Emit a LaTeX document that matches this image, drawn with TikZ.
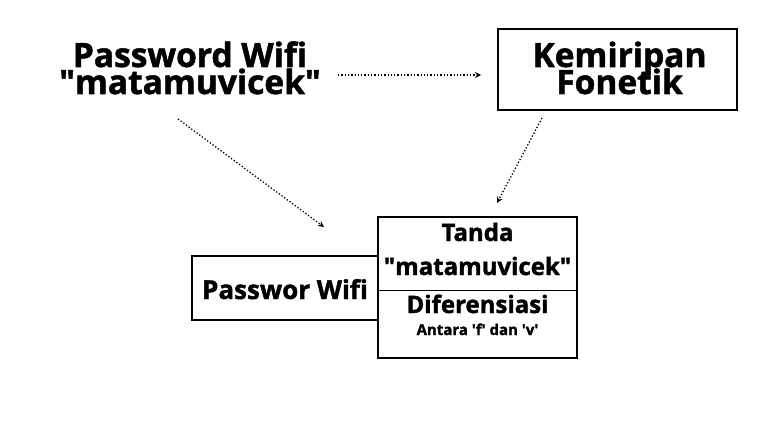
\documentclass[tikz,border=0pt]{standalone}
\usepackage{fontspec}
\setmainfont{Open Sans}[BoldFeatures={FakeBold=1.5}]
\usetikzlibrary{arrows.meta}
\begin{document}
\begin{tikzpicture}[x=1pt,y=-1pt,
  big/.style={inner sep=0pt,anchor=base,font=\fontsize{33.5}{33}\selectfont\bfseries},
  mid/.style={inner sep=0pt,anchor=base,font=\fontsize{24}{24}\selectfont\bfseries},
  midb/.style={inner sep=0pt,anchor=base,font=\fontsize{26}{26}\selectfont\bfseries},
  small/.style={inner sep=0pt,anchor=base,font=\fontsize{15}{15}\selectfont\bfseries},
  boxline/.style={draw=black,line width=2pt},
  dotarrow/.style={line width=1.3pt,dotted,-{Stealth[length=6pt,width=6pt]}}]
\useasboundingbox[fill=white] (0,0) rectangle (770,433);
% top left text
\node[big] (pwa) at (190,67) {Password Wifi};
\node[big] (pwb) at (190,94) {\textquotedbl matamuvicek\textquotedbl};
% Kemiripan box
\node[boxline,minimum width=239pt,minimum height=81pt,inner sep=0pt] (kf) at (617.5,69.5) {};
\node[big] (kfa) at (619.5,67) {Kemiripan};
\node[big] (kfb) at (619.5,94) {Fonetik};
% bottom boxes
\draw[boxline] (378,256) -- (192,256) -- (192,320) -- (378,320);
\node[boxline,minimum width=199pt,minimum height=141pt,inner sep=0pt] (rb) at (477.5,287.5) {};
\coordinate (dl) at (378,290);
\coordinate (dr) at (577,290);
\draw[line width=1pt] (dl) -- (dr);
\node[midb] (pwf) at (285,299) {Passwor Wifi};
\node[mid] (ta) at (477.5,241) {Tanda};
\node[mid] (tb) at (477.5,275) {\textquotedbl matamuvicek\textquotedbl};
\node[mid] (di) at (477.5,313) {Diferensiasi};
\node[small] (an) at (477.5,335) {Antara \textquotesingle f\textquotesingle\ dan \textquotesingle v\textquotesingle};
% arrows
\coordinate (a1s) at (338,75);
\coordinate (a1e) at (481,75);
\coordinate (a2s) at (178,119);
\coordinate (a2e) at (324,227);
\coordinate (a3s) at (542,118);
\coordinate (a3e) at (497,203);
\draw[dotarrow] (a1s) -- (a1e);
\draw[dotarrow] (a2s) -- (a2e);
\draw[dotarrow] (a3s) -- (a3e);
\end{tikzpicture}
\end{document}
